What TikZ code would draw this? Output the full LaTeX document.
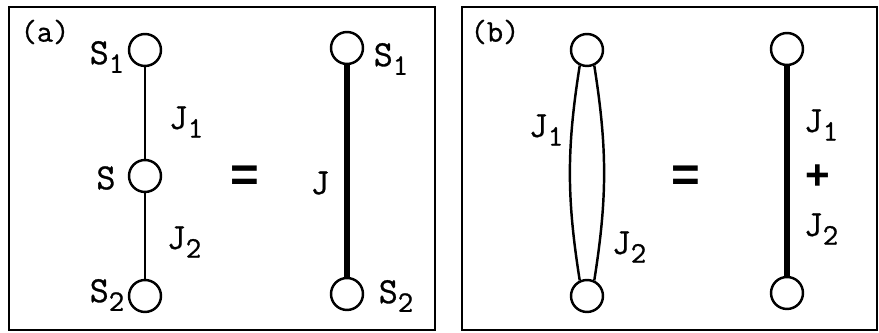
\documentclass[tikz,border=0pt]{standalone}
\usepackage{fontspec}
\newfontfamily\labelfont[FakeBold=0.8]{Latin Modern Mono}
\newfontfamily\symfont{Liberation Sans}
\newcommand{\lowered}[1]{\raisebox{-0.55ex}{\fontsize{17}{17}\selectfont #1}}
\begin{document}
\begin{tikzpicture}[x=0.02cm, y=0.02cm,
    every node/.style={font=\labelfont\fontsize{21}{24}\selectfont},
    panellabel/.style={font=\labelfont\fontsize{18}{20}\selectfont},
    site/.style={circle, draw, line width=1.4pt, minimum size=0.64cm, inner sep=0pt},
    bond/.style={line width=1.4pt},
    strongbond/.style={line width=3.8pt},
    eqsign/.style={font=\symfont\fontsize{28}{28}\selectfont\bfseries}]
    \useasboundingbox (0,0) rectangle (879,333);
    % Panels
    \draw[line width=1.4pt] (9,3) rectangle (435,326);
    \draw[line width=1.4pt] (462,3) rectangle (877,326);
    \node[panellabel] (la) at (45,301) {(a)};
    \node[panellabel] (lb) at (495,301) {(b)};

    % Panel (a): chain of two bonds
    \node[site] (a1) at (145,283) {};
    \node[site] (a0) at (145,157) {};
    \node[site] (a2) at (145,37) {};
    \draw[bond] (a1) -- (a0);
    \draw[bond] (a0) -- (a2);
    \node (s1) at (107,276) {S\lowered{1}};
    \node (s0) at (106,155) {S};
    \node (s2) at (107,38) {S\lowered{2}};
    \node (j1) at (186,211) {J\lowered{1}};
    \node (j2) at (184,91) {J\lowered{2}};
    \node[eqsign] (eqa) at (245,154) {=};
    % Panel (a): effective bond
    \node[site] (c1) at (347,285) {};
    \node[site] (c2) at (347,39) {};
    \draw[strongbond] (c1) -- (c2);
    \node (j) at (320,150) {J};
    \node (t1) at (391,274) {S\lowered{1}};
    \node (t2) at (396,37) {S\lowered{2}};

    % Panel (b): two parallel bonds
    \node[site] (b1) at (587,283) {};
    \node[site] (b2) at (587,37) {};
    \draw[bond] (b1.-115) to[bend right=9] (b2.115);
    \draw[bond] (b1.-65) to[bend left=9] (b2.65);
    \node (k1) at (546,203) {J\lowered{1}};
    \node (k2) at (629,86) {J\lowered{2}};
    \node[eqsign] (eqb) at (686,154) {=};
    % Panel (b): summed bond
    \node[site] (d1) at (787,284) {};
    \node[site] (d2) at (787,40) {};
    \draw[strongbond] (d1) -- (d2);
    \node (m1) at (821,208) {J\lowered{1}};
    \node[font=\symfont\fontsize{24}{24}\selectfont\bfseries] (plus) at (818,156) {+};
    \node (m2) at (821,104) {J\lowered{2}};
\end{tikzpicture}
\end{document}
